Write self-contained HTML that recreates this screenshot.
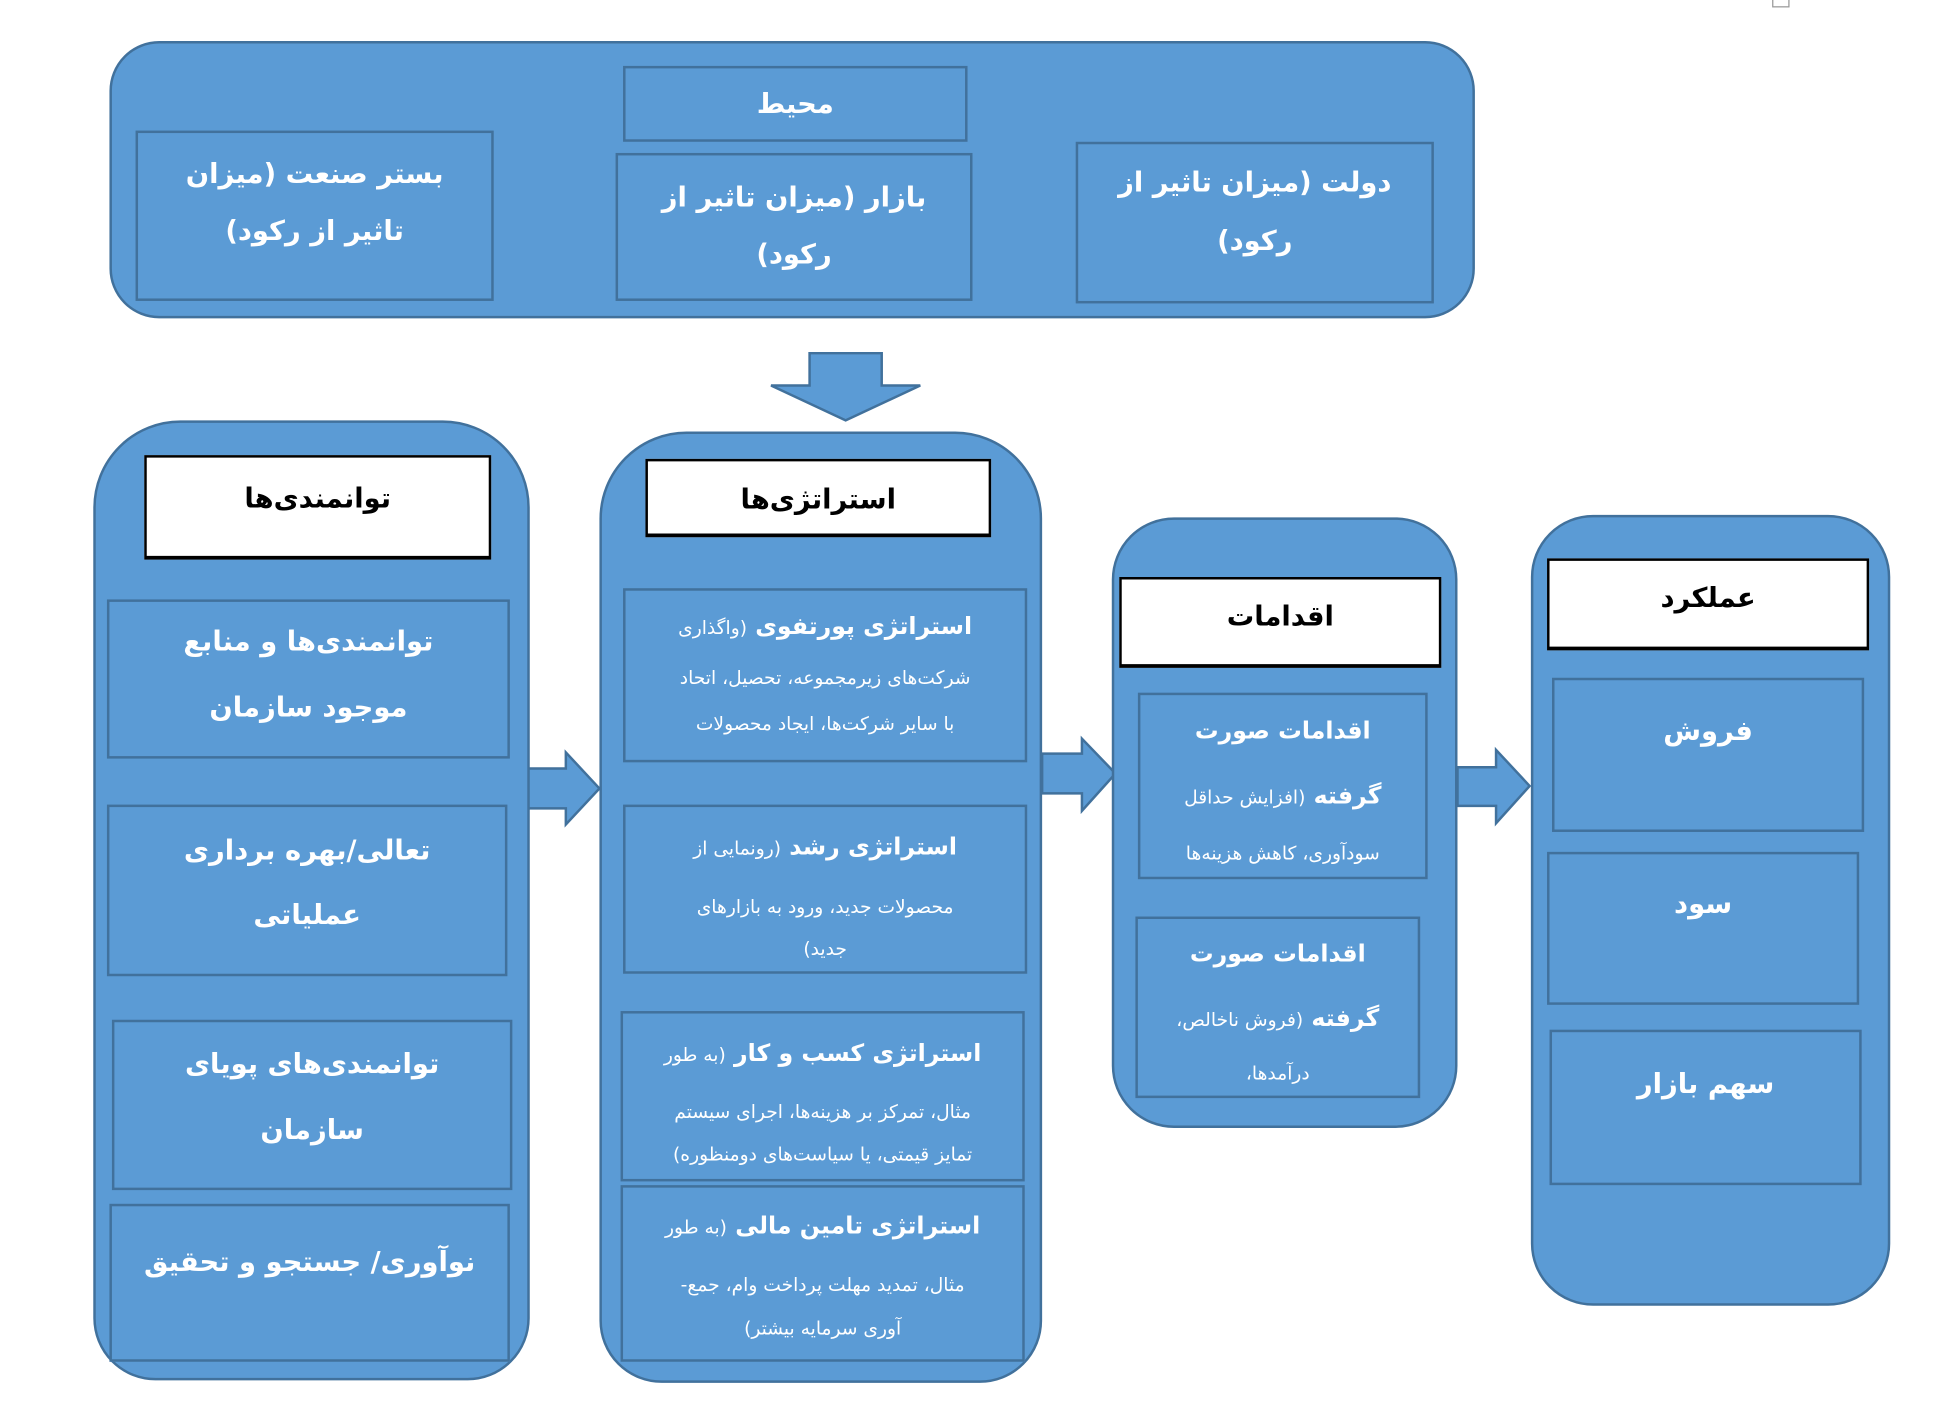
<!DOCTYPE html>
<html><head><meta charset="utf-8">
<style>
html,body{margin:0;padding:0;background:#fff;width:1950px;height:1406px;overflow:hidden}
#c{position:absolute;left:0;top:0;width:1568px;height:1130px;transform:scale(1.2436);transform-origin:0 0}
.r{position:absolute;background:#5b9bd5;border:2px solid #41719c;box-sizing:border-box}
.w{position:absolute;background:#fff;border:2px solid #000;box-sizing:border-box;border-width:2px 2px 3px 2px}
.t{position:absolute;text-align:center;color:#fff;font-family:"DejaVu Sans","Noto Sans CJK SC",sans-serif;font-weight:bold;direction:rtl;white-space:nowrap;line-height:30px;height:30px}
.b{color:#000}
.s{font-size:15px;font-weight:normal}
.m{font-size:22px}
</style></head><body>
<div id="c">
<div style="position:absolute;left:1425px;top:-4px;width:14px;height:10px;border:1px solid #999;box-sizing:border-box"></div>

<!-- top -->
<div class="r" style="left:88px;top:33px;width:1098px;height:223px;border-radius:40px"></div>
<div class="r" style="left:501px;top:53px;width:277px;height:61px"></div>
<div class="t m" style="left:501px;width:277px;top:70px">محیط</div>
<div class="r" style="left:109px;top:105px;width:288px;height:137px"></div>
<div class="t m" style="left:109px;width:288px;top:126px">بستر صنعت (میزان</div>
<div class="t m" style="left:109px;width:288px;top:172px">تاثیر از رکود)</div>
<div class="r" style="left:495px;top:123px;width:287px;height:119px"></div>
<div class="t m" style="left:495px;width:287px;top:145px">بازار (میزان تاثیر از</div>
<div class="t m" style="left:495px;width:287px;top:191px">رکود)</div>
<div class="r" style="left:865px;top:114px;width:288px;height:130px"></div>
<div class="t m" style="left:865px;width:288px;top:133px">دولت (میزان تاثیر از</div>
<div class="t m" style="left:865px;width:288px;top:180px">رکود)</div>

<svg style="position:absolute;left:0;top:0" width="1568" height="1130">
<g fill="#5b9bd5" stroke="#41719c" stroke-width="2">
<polygon points="651,284 709,284 709,310 740,310 680,338 620,310 651,310"/>
<polygon points="424,618 455,618 455,605 482,634 455,663 455,650 424,650"/>
<polygon points="838,606 870,606 870,594 897,622 870,652 870,638 838,638"/>
<polygon points="1172,617 1203,617 1203,603 1230,632 1203,662 1203,648 1172,648"/>
</g></svg>

<!-- col1 -->
<div class="r" style="left:75px;top:338px;width:351px;height:772px;border-radius:70px 70px 50px 50px"></div>
<div class="w" style="left:116px;top:366px;width:279px;height:84px"></div>
<div class="t b m" style="left:116px;width:279px;top:387px">توانمندی‌ها</div>
<div class="r" style="left:86px;top:482px;width:324px;height:128px"></div>
<div class="t m" style="left:86px;width:324px;top:502px">توانمندی‌ها و منابع</div>
<div class="t m" style="left:86px;width:324px;top:555px">موجود سازمان</div>
<div class="r" style="left:86px;top:647px;width:322px;height:138px"></div>
<div class="t m" style="left:86px;width:322px;top:670px">تعالی/بهره برداری</div>
<div class="t m" style="left:86px;width:322px;top:722px">عملیاتی</div>
<div class="r" style="left:90px;top:820px;width:322px;height:137px"></div>
<div class="t m" style="left:90px;width:322px;top:842px">توانمندی‌های پویای</div>
<div class="t m" style="left:90px;width:322px;top:895px">سازمان</div>
<div class="r" style="left:88px;top:968px;width:322px;height:127px"></div>
<div class="t m" style="left:88px;width:322px;top:1001px">نوآوری/ جستجو و تحقیق</div>

<!-- col2 -->
<div class="r" style="left:482px;top:347px;width:356px;height:765px;border-radius:70px 70px 50px 50px"></div>
<div class="w" style="left:519px;top:369px;width:278px;height:63px"></div>
<div class="t b m" style="left:519px;width:278px;top:388px">استراتژی‌ها</div>
<div class="r" style="left:501px;top:473px;width:325px;height:140px"></div>
<div class="t" style="left:501px;width:325px;top:489px;font-size:19px">استراتژی پورتفوی <span class="s">(واگذاری</span></div>
<div class="t s" style="left:501px;width:325px;top:530px">شرکت‌های زیرمجموعه، تحصیل، اتحاد</div>
<div class="t s" style="left:501px;width:325px;top:567px">با سایر شرکت‌ها، ایجاد محصولات</div>
<div class="r" style="left:501px;top:647px;width:325px;height:136px"></div>
<div class="t" style="left:501px;width:325px;top:666px;font-size:19px">استراتژی رشد <span class="s">(رونمایی از</span></div>
<div class="t s" style="left:501px;width:325px;top:714px">محصولات جدید، ورود به بازارهای</div>
<div class="t s" style="left:501px;width:325px;top:748px">جدید)</div>
<div class="r" style="left:499px;top:813px;width:325px;height:137px"></div>
<div class="t" style="left:499px;width:325px;top:832px;font-size:19px">استراتژی کسب و کار <span class="s">(به طور</span></div>
<div class="t s" style="left:499px;width:325px;top:879px">مثال، تمرکز بر هزینه‌ها، اجرای سیستم</div>
<div class="t s" style="left:499px;width:325px;top:913px">تمایز قیمتی، یا سیاست‌های دومنظوره)</div>
<div class="r" style="left:499px;top:953px;width:325px;height:142px"></div>
<div class="t" style="left:499px;width:325px;top:971px;font-size:19px">استراتژی تامین مالی <span class="s">(به طور</span></div>
<div class="t s" style="left:499px;width:325px;top:1018px">مثال، تمدید مهلت پرداخت وام، جمع-</div>
<div class="t s" style="left:499px;width:325px;top:1053px">آوری سرمایه بیشتر)</div>

<!-- col3 -->
<div class="r" style="left:894px;top:416px;width:278px;height:491px;border-radius:50px 50px 50px 50px"></div>
<div class="w" style="left:900px;top:464px;width:259px;height:73px"></div>
<div class="t b m" style="left:900px;width:259px;top:482px">اقدامات</div>
<div class="r" style="left:915px;top:557px;width:233px;height:150px"></div>
<div class="t" style="left:915px;width:233px;top:573px;font-size:19px">اقدامات صورت</div>
<div class="t" style="left:915px;width:233px;top:625px;font-size:19px">گرفته <span class="s">(افزایش حداقل</span></div>
<div class="t s" style="left:915px;width:233px;top:671px">سودآوری، کاهش هزینه‌ها</div>
<div class="r" style="left:913px;top:737px;width:229px;height:146px"></div>
<div class="t" style="left:913px;width:229px;top:752px;font-size:19px">اقدامات صورت</div>
<div class="t" style="left:913px;width:229px;top:804px;font-size:19px">گرفته <span class="s">(فروش ناخالص،</span></div>
<div class="t s" style="left:913px;width:229px;top:848px">درآمدها،</div>

<!-- col4 -->
<div class="r" style="left:1231px;top:414px;width:289px;height:636px;border-radius:50px 50px 50px 50px"></div>
<div class="w" style="left:1244px;top:449px;width:259px;height:74px"></div>
<div class="t b m" style="left:1244px;width:259px;top:467px">عملکرد</div>
<div class="r" style="left:1248px;top:545px;width:251px;height:124px"></div>
<div class="t m" style="left:1248px;width:251px;top:574px">فروش</div>
<div class="r" style="left:1244px;top:685px;width:251px;height:123px"></div>
<div class="t m" style="left:1244px;width:251px;top:713px">سود</div>
<div class="r" style="left:1246px;top:828px;width:251px;height:125px"></div>
<div class="t m" style="left:1246px;width:251px;top:858px">سهم بازار</div>
</div>
</body></html>
